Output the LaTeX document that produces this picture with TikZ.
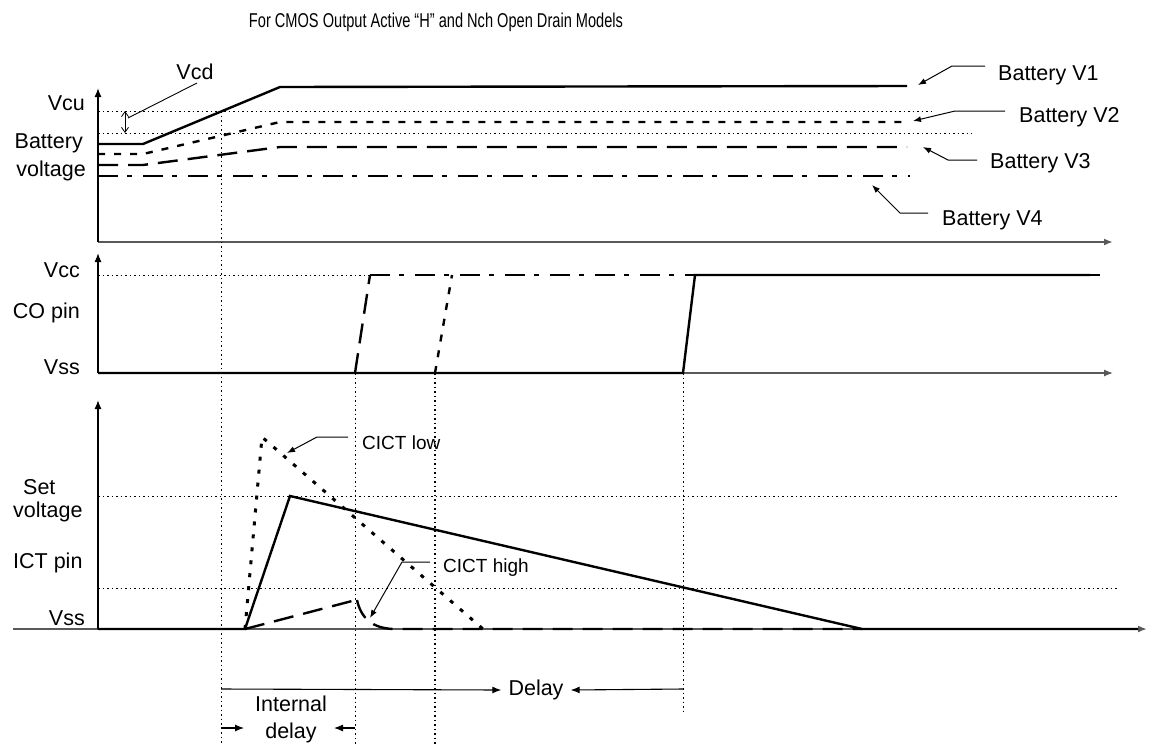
\documentclass[tikz,border=0pt]{standalone}
\usepackage{fontspec}
\setmainfont{Liberation Sans}
\usetikzlibrary{arrows.meta}
\begin{document}
\begin{tikzpicture}[x=1pt,y=-1pt,
  lbl/.style={inner sep=0pt,font=\fontsize{21.5}{24}\selectfont},
  sml/.style={inner sep=0pt,font=\fontsize{19}{22}\selectfont},
  haxis/.style={draw=black!65,line width=2pt,-{Latex[length=9pt,width=7pt]}},
  vaxis/.style={draw=black,line width=1.3pt,-{Latex[length=9pt,width=7pt]}},
  guide/.style={draw=black,line width=1pt,dash pattern=on 1.5pt off 3pt},
  sol/.style={line width=2.4pt,line join=miter},
  vtwo/.style={line width=2.4pt,dash pattern=on 7pt off 9pt},
  vthree/.style={line width=2.4pt,dash pattern=on 20pt off 10pt},
  vfour/.style={line width=2.4pt,dash pattern=on 20pt off 9pt on 5pt off 11pt},
  dotr/.style={line width=3pt,dash pattern=on 4pt off 9pt},
  ptr/.style={line width=1pt,-{Latex[length=8pt,width=6pt]}},
  darr/.style={line width=1.1pt,-{Latex[length=9pt,width=7pt]}}
]
\useasboundingbox (0,0) rectangle (1153,745);

% title
\node[inner sep=0pt,font=\fontsize{20}{22}\selectfont] (title) at (436,22) {\scalebox{0.73}[1]{For CMOS Output Active “H” and Nch Open Drain Models}};

% ---------- top panel ----------
\coordinate (o1) at (98,242);
\draw[haxis] (o1) -- (1113,242);
\draw[vaxis] (o1) -- (98,88);
\draw[guide] (98,111) -- (933,111);
\draw[guide] (98,133) -- (972,133);
\draw[line width=0.8pt,{Straight Barb[length=5pt,width=7pt]}-{Straight Barb[length=5pt,width=7pt]}] (125,111) -- (125,133);
\node[lbl] (vcd) at (195,72) {Vcd};
\coordinate (vcdt) at (128,118);
\draw[line width=0.9pt] (197,83) -- (vcdt);

\draw[sol] (98,144) -- (143,144) -- (280,87) -- (907,86);
\draw[vtwo] (98,154) -- (143,154) -- (280,122) -- (903,122);
\draw[vthree] (98,165) -- (143,165) -- (280,147) -- (907,147);
\draw[vfour] (98,176) -- (910,176);

\node[lbl,anchor=east] (vcu) at (85,103) {Vcu};
\node[lbl,anchor=east] (bat) at (83,143) {Battery};
\node[lbl,anchor=east] (bvol) at (86,171) {voltage};

\node[lbl,anchor=west] (b1) at (998,75) {Battery V1};
\node[lbl,anchor=west] (b2) at (1019,117) {Battery V2};
\node[lbl,anchor=west] (b3) at (990,163) {Battery V3};
\node[lbl,anchor=west] (b4) at (942,220) {Battery V4};
\coordinate (b1t) at (918,85);
\coordinate (b2t) at (913,121);
\coordinate (b3t) at (923,147);
\coordinate (b4t) at (872,185);
\draw[ptr] (985,66) -- (952,66) -- (b1t);
\draw[ptr] (1005,111) -- (955,111) -- (b2t);
\draw[ptr] (977,160) -- (948,160) -- (b3t);
\draw[ptr] (928,213) -- (900,213) -- (b4t);

% ---------- CO panel ----------
\coordinate (o2) at (98,373);
\draw[haxis,line width=1.3pt] (o2) -- (1113,373);
\draw[vaxis] (o2) -- (98,253);
\draw[guide] (98,275) -- (372,275);
\draw[vfour] (370,275) -- (1100,275);
\draw[vthree] (355,373) -- (370,275);
\draw[vtwo] (435,373) -- (452,275);
\draw[sol] (98,373) -- (683,373) -- (695,275) -- (1090,275);
\node[lbl,anchor=east] (vcc) at (80,270) {Vcc};
\node[lbl,anchor=east] (copin) at (80,313) {CO pin};
\node[lbl,anchor=east] (vss1) at (80,367) {Vss};

% vertical guides
\draw[guide] (221,111) -- (221,745);
\draw[guide] (355,373) -- (355,745);
\draw[guide,line width=1.6pt] (435,373) -- (435,745);
\draw[guide] (683,373) -- (683,715);

% ---------- ICT panel ----------
\coordinate (o3) at (98,629);
\draw[haxis] (13,629) -- (1147,629);
\draw[vaxis] (o3) -- (98,400);
\draw[guide] (98,496) -- (1117,496);
\draw[guide] (98,588) -- (1117,588);
\draw[vthree] (245,629) -- (352,601) (357,600) .. controls (361,618) and (372,628) .. (393,629) -- (862,629);
\draw[dotr] (245,629) -- (262,437) -- (483,629);
\draw[sol] (98,629) -- (245,629) -- (290,496) -- (862,629) -- (1138,629);

\node[lbl,anchor=west] (setv) at (23,487) {Set};
\node[lbl,anchor=west] (setv2) at (13,512) {voltage};
\node[lbl,anchor=west] (ictpin) at (13,563) {ICT pin};
\node[lbl,anchor=east] (vss2) at (85,618) {Vss};

\node[sml,anchor=west] (clow) at (362,443) {CICT low};
\node[sml,anchor=west] (chigh) at (443,568) {CICT high};
\coordinate (clt) at (287,453);
\coordinate (cht) at (370,618);
\draw[ptr] (348,437) -- (317,437) -- (clt);
\draw[ptr] (430,562) -- (402,562) -- (cht);

% ---------- delays ----------
\node[lbl] (delay) at (536,690) {Delay};
\coordinate (dls) at (221,689);
\coordinate (dle) at (683,689);
\draw[darr] (dls) -- ([xshift=-7pt]delay.west);
\draw[darr] (dle) -- ([xshift=7pt]delay.east);
\node[lbl,align=center,font=\fontsize{21.5}{27}\selectfont] (idl) at (291,719) {Internal\\delay};
\coordinate (ids) at (221,728);
\coordinate (ide) at (355,728);
\draw[darr] (ids) -- (244,728);
\draw[darr] (ide) -- (334,728);
\end{tikzpicture}
\end{document}
